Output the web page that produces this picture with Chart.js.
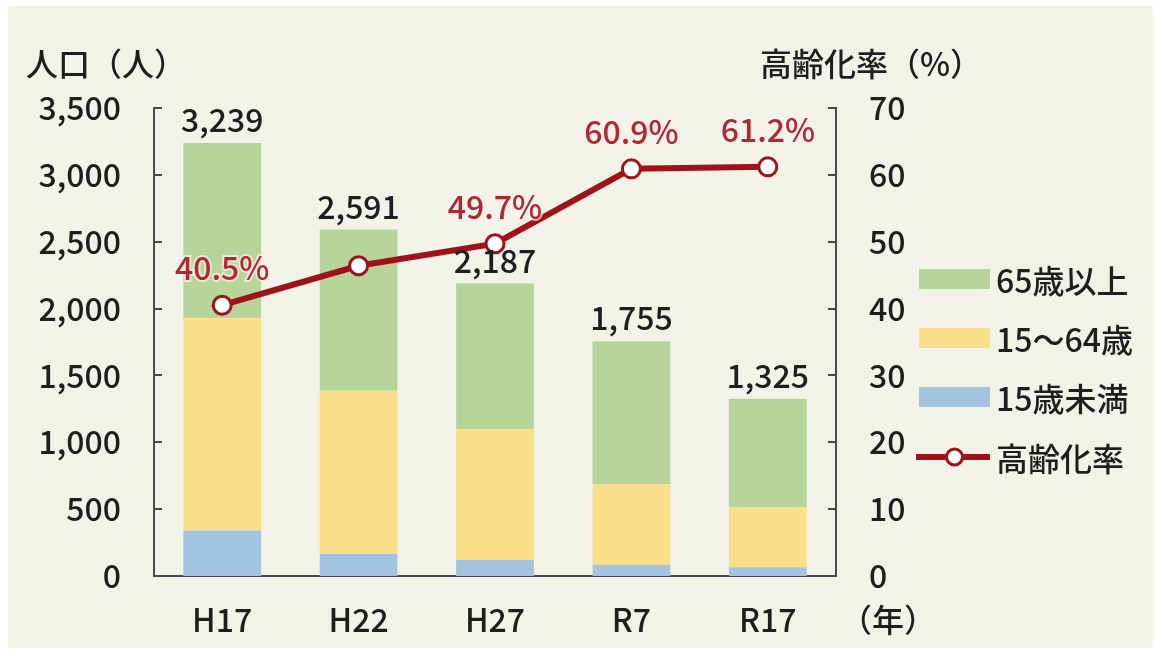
<!DOCTYPE html>
<html>
<head>
<meta charset="utf-8">
<script src="https://cdn.jsdelivr.net/npm/chart.js@4/dist/chart.umd.min.js"></script>
<style>
  html, body { margin: 0; padding: 0; background: #ffffff; }
  #wrap { position: relative; width: 1156px; height: 651px; }
</style>
</head>
<body>
<div id="wrap"><canvas id="c" width="1156" height="651"></canvas></div>
<script>
// ---- data ----
const categories = ['H17', 'H22', 'H27', 'R7', 'R17'];
const under15 = [340, 165, 120, 85, 65];
const working = [1587, 1221, 980, 601, 449];
const elderly = [1312, 1205, 1087, 1069, 811];
const totals = [3239, 2591, 2187, 1755, 1325];
const agingRate = [40.5, 46.4, 49.7, 60.9, 61.2];
const rateLabels = ['40.5%', '', '49.7%', '60.9%', '61.2%'];
const seriesNames = ['15歳未満', '15～64歳', '65歳以上', '高齢化率'];
const leftTitle = '人口（人）';
const rightTitle = '高齢化率（%）';
const yearUnit = '（年）';

const FONT = '"Noto Sans CJK JP", "Noto Sans", sans-serif';
const FS = 32;
const FW = '500';
const TXT = '#1e1e1e';
const AXIS = '#4a4a4a';
const RED = '#a0121a';
const RED_TXT = '#ad2a30';
const colors = ['#a3c4e0', '#fadf8a', '#b7d49b'];

const bgPlugin = {
  id: 'bg',
  beforeDraw(chart) {
    const ctx = chart.ctx;
    ctx.save();
    ctx.fillStyle = '#ffffff';
    ctx.fillRect(0, 0, chart.width, chart.height);
    ctx.fillStyle = '#f3f2e9';
    ctx.fillRect(8, 6, 1145, 642);
    ctx.restore();
  }
};

const decoPlugin = {
  id: 'deco',
  afterDraw(chart) {
    const ctx = chart.ctx;
    const area = chart.chartArea;
    const y = chart.scales.y, y1 = chart.scales.y1;
    const font = FW + ' ' + FS + 'px ' + FONT;
    ctx.save();
    // inner tick marks
    ctx.strokeStyle = AXIS;
    ctx.lineWidth = 2;
    y.ticks.forEach(t => {
      const py = Math.round(y.getPixelForValue(t.value));
      ctx.beginPath(); ctx.moveTo(area.left, py); ctx.lineTo(area.left + 8, py); ctx.stroke();
    });
    y1.ticks.forEach(t => {
      const py = Math.round(y1.getPixelForValue(t.value));
      ctx.beginPath(); ctx.moveTo(area.right, py); ctx.lineTo(area.right - 8, py); ctx.stroke();
    });
    // axis titles
    ctx.fillStyle = TXT;
    ctx.font = font;
    ctx.textBaseline = 'middle';
    ctx.textAlign = 'left';
    ctx.fillText(leftTitle, 26, 64);
    ctx.fillText(rightTitle, 760, 64);
    ctx.fillText(yearUnit, area.right + 4, 620);

    // bar totals
    const topMeta = chart.getDatasetMeta(2);
    ctx.textAlign = 'center';
    topMeta.data.forEach((el, i) => {
      ctx.fillStyle = TXT;
      ctx.fillText(totals[i].toLocaleString('en-US'), el.x, el.y - 23);
    });

    // legend
    const lx = 919, lw = 71, tx = 996;
    const rows = [279, 338, 397, 457];
    const order = [2, 1, 0];
    order.forEach((di, r) => {
      ctx.fillStyle = colors[di];
      ctx.fillRect(lx, rows[r] - 10, lw, 20);
      ctx.fillStyle = TXT;
      ctx.textAlign = 'left';
      ctx.fillText(seriesNames[di], tx, rows[r] + 2);
    });
    ctx.strokeStyle = RED;
    ctx.lineWidth = 6;
    ctx.beginPath(); ctx.moveTo(lx - 3, rows[3]); ctx.lineTo(lx + lw, rows[3]); ctx.stroke();
    ctx.beginPath(); ctx.arc(lx + lw / 2, rows[3], 8, 0, Math.PI * 2);
    ctx.fillStyle = '#ffffff'; ctx.fill();
    ctx.lineWidth = 3; ctx.stroke();
    ctx.fillStyle = TXT;
    ctx.fillText(seriesNames[3], tx, rows[3] + 2);

    // rate labels
    const lineMeta = chart.getDatasetMeta(3);
    ctx.textAlign = 'center';
    lineMeta.data.forEach((el, i) => {
      if (!rateLabels[i]) return;
      ctx.lineWidth = 4;
      ctx.strokeStyle = 'rgba(255,240,240,0.7)';
      ctx.strokeText(rateLabels[i], el.x, el.y - 37);
      ctx.fillStyle = RED_TXT;
      ctx.fillText(rateLabels[i], el.x, el.y - 37);
    });
    ctx.restore();
  }
};

new Chart(document.getElementById('c'), {
  data: {
    labels: categories,
    datasets: [
      { type: 'bar', label: seriesNames[0], data: under15, backgroundColor: colors[0], yAxisID: 'y', stack: 's', order: 1, barPercentage: 0.57, categoryPercentage: 1.0 },
      { type: 'bar', label: seriesNames[1], data: working, backgroundColor: colors[1], yAxisID: 'y', stack: 's', order: 1, barPercentage: 0.57, categoryPercentage: 1.0 },
      { type: 'bar', label: seriesNames[2], data: elderly, backgroundColor: colors[2], yAxisID: 'y', stack: 's', order: 1, barPercentage: 0.57, categoryPercentage: 1.0 },
      { type: 'line', label: seriesNames[3], data: agingRate, yAxisID: 'y1', order: 0,
        borderColor: RED, borderWidth: 6, tension: 0,
        pointRadius: 9, pointHoverRadius: 9, pointBackgroundColor: '#ffffff', pointBorderColor: RED, pointBorderWidth: 3 }
    ]
  },
  options: {
    responsive: false,
    animation: false,
    events: [],
    layout: { padding: { top: 108, left: 0, right: 0, bottom: 0 } },
    plugins: { legend: { display: false }, tooltip: { enabled: false }, title: { display: false } },
    scales: {
      x: {
        stacked: true,
        offset: true,
        grid: { display: false, drawTicks: false },
        border: { display: true, color: AXIS, width: 2 },
        ticks: { font: { family: FONT, size: FS, weight: FW }, color: TXT, padding: 25, maxRotation: 0 },
        afterFit(s) { s.height = 75; }
      },
      y: {
        position: 'left',
        stacked: true,
        min: 0, max: 3500,
        grid: { display: false, drawTicks: false },
        border: { display: true, color: AXIS, width: 2 },
        ticks: { stepSize: 500, font: { family: FONT, size: FS, weight: FW }, color: TXT, padding: 33,
          callback: v => v.toLocaleString('en-US') },
        afterFit(s) { s.width = 154; }
      },
      y1: {
        position: 'right',
        min: 0, max: 70,
        grid: { display: false, drawTicks: false, drawOnChartArea: false },
        border: { display: true, color: AXIS, width: 2 },
        ticks: { stepSize: 10, font: { family: FONT, size: FS, weight: FW }, color: TXT, padding: 33 },
        afterFit(s) { s.width = 320; }
      }
    }
  },
  plugins: [bgPlugin, decoPlugin]
});
</script>
</body>
</html>
